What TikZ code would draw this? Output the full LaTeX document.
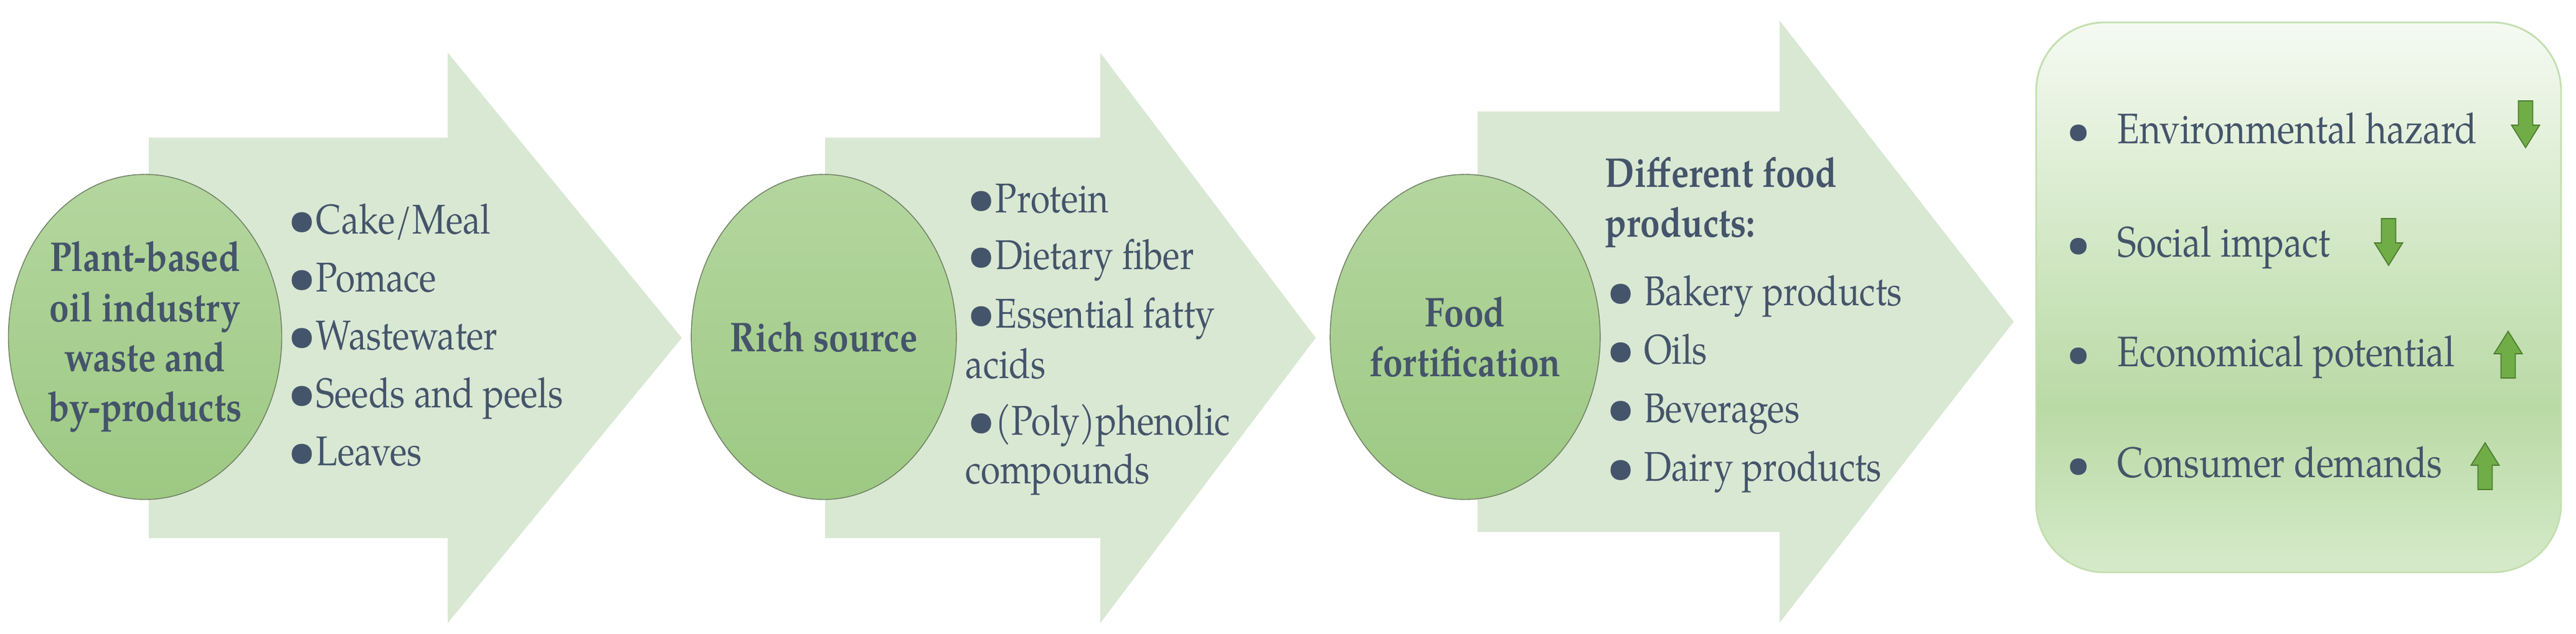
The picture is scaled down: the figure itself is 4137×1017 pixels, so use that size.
\documentclass[tikz,border=0pt]{standalone}
\usepackage{fontspec}
\setmainfont{TeX Gyre Pagella}[FakeStretch=0.85]
\newfontfamily\dotfont{TeX Gyre Pagella}
\usetikzlibrary{positioning,calc,shapes.geometric}

\newcommand{\bul}{{\dotfont\fontsize{23}{23}\selectfont\raisebox{-0.6pt}{•}}}

\definecolor{ink}{HTML}{44546A}
\definecolor{arrowgreen}{HTML}{D9E8D3}
\definecolor{ovaltop}{HTML}{B4D69F}
\definecolor{ovalbot}{HTML}{9DC983}
\definecolor{ovalline}{HTML}{6E7F62}
\definecolor{boxtop}{HTML}{F5FAF2}
\definecolor{boxmid}{HTML}{B9DAA5}
\definecolor{boxbot}{HTML}{D6EACA}
\definecolor{boxline}{HTML}{C3DFAF}
\definecolor{upgreen}{HTML}{70AD47}
\definecolor{upline}{HTML}{507E32}

\pgfdeclareverticalshading{boxfade}{100bp}{color(0bp)=(boxbot); color(25bp)=(boxbot); color(40bp)=(boxmid); color(75bp)=(boxtop); color(100bp)=(boxtop)}

\tikzset{
	bigarrow/.style={fill=arrowgreen},
	oval/.style={ellipse, draw=ovalline, line width=0.4pt, top color=ovaltop, bottom color=ovalbot,
		inner sep=0pt, text=ink, align=center, font=\bfseries\fontsize{19}{22.8}\selectfont},
	item/.style={text=ink, inner sep=0pt, anchor=base west, font=\fontsize{19}{24}\selectfont},
	head/.style={item, font=\bfseries\fontsize{19}{24}\selectfont},
	effect/.style={item, font=\fontsize{19.5}{24}\selectfont},
	endbox/.style={draw=boxline, line width=0.8pt, rounded corners=11mm, shading=boxfade,
		minimum width=84.3mm, minimum height=88.3mm},
	smallarrow/.style={fill=upgreen, draw=upline, line width=0.5pt},
	downarrow/.pic={\draw[smallarrow] (-11.5,0) -- (11.5,0) -- (11.5,39) -- (22.5,39) -- (0,75)
		-- (-22.5,39) -- (-11.5,39) -- cycle;},
	uparrow/.pic={\draw[smallarrow] (0,0) -- (22.5,36) -- (11.5,36) -- (11.5,75) -- (-11.5,75)
		-- (-11.5,36) -- (-22.5,36) -- cycle;},
}

\begin{document}
\begin{tikzpicture}[x=0.1mm, y=-0.1mm]
	\useasboundingbox (0,0) rectangle (4137,1017);

	% block arrows
	\foreach \xl/\xh/\xt/\cy/\ry/\hy in {239/719/1095/542.5/321.5/458,
			1325/1767/2113/542.5/321.5/458, 2373/2858/3234/516.5/337.5/483.5}
		\fill[bigarrow] (\xl,{\cy-\ry}) -- (\xh,{\cy-\ry}) -- (\xh,{\cy-\hy}) -- (\xt,\cy)
			-- (\xh,{\cy+\hy}) -- (\xh,{\cy+\ry}) -- (\xl,{\cy+\ry}) -- cycle;

	% circles
	\node[oval, minimum width=43mm, minimum height=52.2mm] (waste) at (233,541)
		{Plant-based\\oil industry\\waste and\\by-products};
	\node[oval, minimum width=39.2mm, minimum height=52.2mm] (rich) at (1323,541) {Rich source};
	\node[oval, minimum width=42.6mm, minimum height=52.2mm] (fort) at (2353,541) {Food\\fortification};

	% lists
	\foreach \t [count=\i from 0] in {Cake/Meal, Pomace, Wastewater, Seeds and peels, Leaves}
		\node[item] (w\i) at (462,{375+93*\i}) {\bul\t};

	\node[item] (protein) at (1553,341) {\bul Protein};
	\node[item] (fiber) at (1553,432) {\bul Dietary fiber};
	\node[item] (fatty) at (1553,526) {\bul Essential fatty};
	\node[item] (acids) at (1550,607) {acids};
	\node[item] (phenol) at (1553,698) {\bul(Poly)phenolic};
	\node[item] (cmpd) at (1550,776) {compounds};

	\node[head] (diff) at (2577,300) {Different food};
	\node[head] (prod) at (2577,380) {products:};
	\foreach \t [count=\i from 0] in {Bakery products, Oils, Beverages, Dairy products}
		\node[item] (f\i) at (2580,{490+94.3*\i}) {\bul\ \t};

	% outcomes
	\node[endbox] (effects) at (3691.5,477.5) {};
	\foreach \t/\y [count=\i] in {Environmental hazard/230, Social impact/412,
			Economical potential/588, Consumer demands/766} {
		\node[effect, anchor=base, font=\dotfont\fontsize{19}{19}\selectfont] (dot\i) at (3338,\y) {•};
		\node[effect] (eff\i) at (3400,\y) {\t};
	}
	\pic at (4056,162) {downarrow};
	\pic at (3836,351) {downarrow};
	\pic at (4028,532) {uparrow};
	\pic at (3991,711) {uparrow};
\end{tikzpicture}
\end{document}
